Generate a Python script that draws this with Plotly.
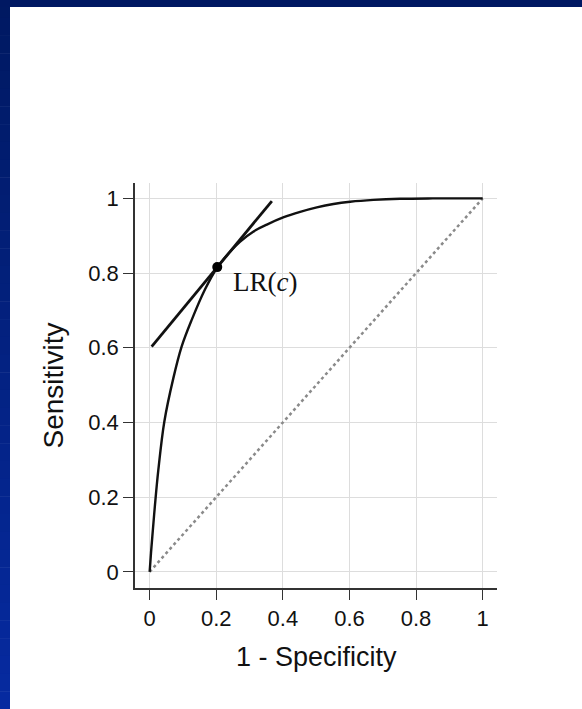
import plotly.graph_objects as go

# ROC curve
fpr = [0, 0.004, 0.008, 0.016, 0.026, 0.044, 0.071, 0.096, 0.126, 0.166, 0.203, 0.240, 0.271, 0.311, 0.352, 0.401, 0.452, 0.502, 0.552, 0.602, 0.672, 0.752, 0.85, 1.0]
tpr = [0, 0.05, 0.094, 0.179, 0.272, 0.402, 0.518, 0.603, 0.674, 0.756, 0.815, 0.856, 0.884, 0.911, 0.930, 0.949, 0.964, 0.976, 0.985, 0.991, 0.996, 0.999, 1.0, 1.0]

# chance diagonal
diag_x = [0, 1]
diag_y = [0, 1]

# tangent line at cutoff c
tan_x = [0.006, 0.367]
tan_y = [0.603, 0.993]

# operating point
pt_x = [0.203]
pt_y = [0.816]
label_text = "LR(<i>c</i>)"

x_ticks = [0, 0.2, 0.4, 0.6, 0.8, 1]
x_ticklabels = ["0", "0.2", "0.4", "0.6", "0.8", "1"]
y_ticks = [0, 0.2, 0.4, 0.6, 0.8, 1]
y_ticklabels = ["0", "0.2", "0.4", "0.6", "0.8", "1"]

W, H = 582, 709
L, R, T, B = 135, 85, 183, 121

fig = go.Figure()
fig.add_trace(go.Scatter(x=diag_x, y=diag_y, mode="lines",
                         line=dict(color="#8a8a8a", width=2.5, dash="dot"),
                         hoverinfo="skip", showlegend=False))
fig.add_trace(go.Scatter(x=fpr, y=tpr, mode="lines",
                         line=dict(color="#111111", width=2.4, shape="spline", smoothing=1.0),
                         showlegend=False))
fig.add_trace(go.Scatter(x=tan_x, y=tan_y, mode="lines",
                         line=dict(color="#111111", width=2.8),
                         showlegend=False))
fig.add_trace(go.Scatter(x=pt_x, y=pt_y, mode="markers",
                         marker=dict(color="#000000", size=10),
                         showlegend=False))

fig.add_annotation(x=0.245, y=0.776, xref="x", yref="y", text=label_text,
                   showarrow=False, xanchor="left", yanchor="middle",
                   font=dict(family="Liberation Serif", size=27, color="#111111"))

# axis titles
fig.add_annotation(x=0.5, y=(588 - 657) / 405, xref="paper", yref="paper",
                   text="1 - Specificity", showarrow=False, xanchor="center", yanchor="middle",
                   font=dict(family="Liberation Sans", size=27, color="#111111"))
fig.add_annotation(x=(53 - 135) / 362, y=0.5, xref="paper", yref="paper",
                   text="Sensitivity", showarrow=False, textangle=-90,
                   xanchor="center", yanchor="middle",
                   font=dict(family="Liberation Sans", size=28, color="#111111"))

# blue frame: top bar and left gradient bar
pw, ph = W - L - R, H - T - B
def px_x(p):
    return (p - L) / pw
def px_y(p):
    return (H - B - p) / ph

shapes = []
n = 40
c0 = (0x00, 0x19, 0x62)
c1 = (0x06, 0x2a, 0xa0)
for i in range(n):
    f = i / (n - 1)
    col = "rgb(%d,%d,%d)" % tuple(round(a + (b - a) * f) for a, b in zip(c0, c1))
    y_top = i * H / n
    y_bot = (i + 1) * H / n + 0.5
    shapes.append(dict(type="rect", xref="paper", yref="paper",
                       x0=px_x(0), x1=px_x(10), y0=px_y(y_bot), y1=px_y(y_top),
                       fillcolor=col, line=dict(width=0), layer="above"))
shapes.append(dict(type="rect", xref="paper", yref="paper",
                   x0=px_x(0), x1=px_x(W), y0=px_y(7), y1=px_y(0),
                   fillcolor="#001862", line=dict(width=0), layer="above"))

fig.update_layout(
    width=W, height=H,
    margin=dict(l=L, r=R, t=T, b=B, autoexpand=False),
    paper_bgcolor="white", plot_bgcolor="white",
    shapes=shapes,
    xaxis=dict(range=[-0.044, 1.043], tickvals=x_ticks, ticktext=x_ticklabels,
               showgrid=True, gridcolor="#dddddd", gridwidth=1, zeroline=False,
               showline=True, linecolor="#333333", linewidth=1.6,
               ticks="outside", ticklen=10, tickwidth=1.4, tickcolor="#333333",
               tickfont=dict(family="Liberation Sans", size=22, color="#111111"),
               fixedrange=True),
    yaxis=dict(range=[-0.0434, 1.0413], tickvals=y_ticks, ticktext=y_ticklabels,
               showgrid=True, gridcolor="#dddddd", gridwidth=1, zeroline=False,
               showline=True, linecolor="#333333", linewidth=1.6,
               ticks="outside", ticklen=10, tickwidth=1.4, tickcolor="#333333",
               tickfont=dict(family="Liberation Sans", size=22, color="#111111"),
               fixedrange=True),
)

fig.write_html("out.html", config={"displayModeBar": False},
               post_script="document.body.style.margin='0';document.body.style.padding='0';document.body.style.overflow='hidden';")
